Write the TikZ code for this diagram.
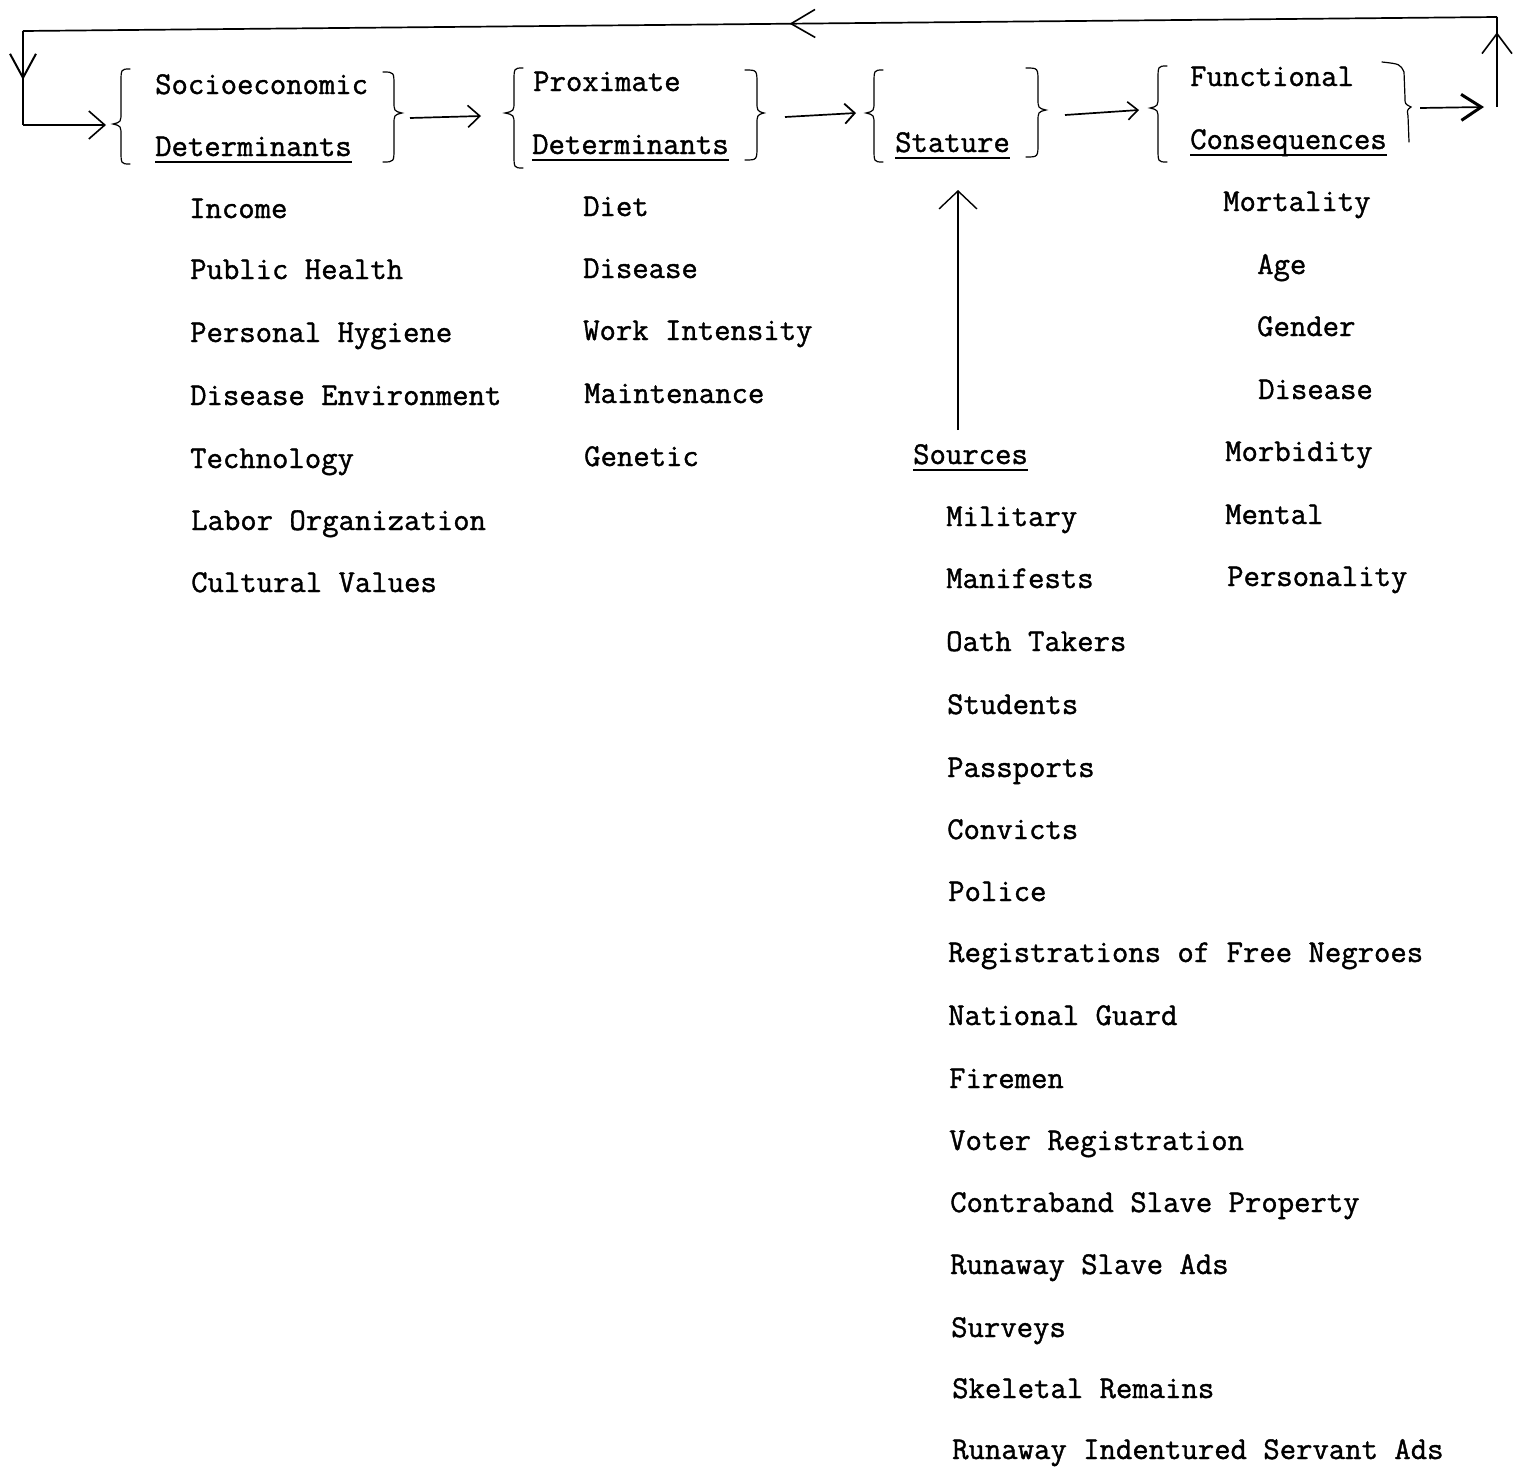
\documentclass[tikz,border=0pt]{standalone}
\usepackage{fontspec}
\setmonofont{Latin Modern Mono}[FakeBold=1.2]
\usetikzlibrary{arrows.meta,decorations.markings}
\tikzset{
  txt/.style={anchor=base west, inner sep=0pt, font=\fontsize{31.8}{31.8}\selectfont\ttfamily},
  conn/.style={line width=1.7pt},
  bracestyle/.style={line width=1.2pt, line cap=round},
  ulstyle/.style={line width=1.8pt},
  midarrow/.style 2 args={postaction={decorate, decoration={markings, mark=at position #1 with {\arrow{#2}}}}},
}
\newcommand{\mybrace}[6]{%
  \draw[bracestyle] (#6,#4) .. controls (#3,#4) .. (#3,{#4+14}) -- (#3,{#2-12})
    .. controls (#3,{#2-2}) .. (#1,#2) .. controls (#3,{#2+2}) .. (#3,{#2+12})
    -- (#3,{#5-14}) .. controls (#3,#5) .. (#6,#5);}
\newcommand{\myul}[1]{\draw[ulstyle] ([yshift=-6pt]#1.base west) -- ([yshift=-6pt]#1.base east);}
\begin{document}
\begin{tikzpicture}[x=1pt,y=-1pt]
\useasboundingbox (0,0) rectangle (1521,1467);

% group titles
\node[txt] (soc1) at (155,94) {Socioeconomic};
\node[txt] (soc2) at (155,156) {Determinants};
\node[txt] (pro1) at (533,91) {Proximate};
\node[txt] (pro2) at (532,154) {Determinants};
\node[txt] (stat) at (895,152) {Stature};
\node[txt] (fun1) at (1190,86) {Functional};
\node[txt] (fun2) at (1190,149) {Consequences};
\node[txt] (src) at (913,464) {Sources};
\myul{soc2}\myul{pro2}\myul{stat}\myul{fun2}\myul{src}

% socioeconomic items
\node[txt] (s1) at (189,218) {Income};
\node[txt] (s2) at (190,279) {Public Health};
\node[txt] (s3) at (190,342) {Personal Hygiene};
\node[txt] (s4) at (190,405) {Disease Environment};
\node[txt] (s5) at (190,468) {Technology};
\node[txt] (s6) at (191,530) {Labor Organization};
\node[txt] (s7) at (191,592) {Cultural Values};

% proximate items
\node[txt] (p1) at (583,216) {Diet};
\node[txt] (p2) at (583,278) {Disease};
\node[txt] (p3) at (583,340) {Work Intensity};
\node[txt] (p4) at (584,403) {Maintenance};
\node[txt] (p5) at (584,466) {Genetic};

% functional items
\node[txt] (f1) at (1223,211) {Mortality};
\node[txt] (f2) at (1257,274) {Age};
\node[txt] (f3) at (1257,336) {Gender};
\node[txt] (f4) at (1258,399) {Disease};
\node[txt] (f5) at (1225,461) {Morbidity};
\node[txt] (f6) at (1225,524) {Mental};
\node[txt] (f7) at (1227,586) {Personality};

% sources
\node[txt] (r1) at (946,526) {Military};
\node[txt] (r2) at (946,588) {Manifests};
\node[txt] (r3) at (946,651) {Oath Takers};
\node[txt] (r4) at (947,714) {Students};
\node[txt] (r5) at (947,777) {Passports};
\node[txt] (r6) at (947,839) {Convicts};
\node[txt] (r7) at (948,901) {Police};
\node[txt] (r8) at (948,962) {Registrations of Free Negroes};
\node[txt] (r9) at (948,1025) {National Guard};
\node[txt] (r10) at (949,1088) {Firemen};
\node[txt] (r11) at (949,1150) {Voter Registration};
\node[txt] (r12) at (950,1212) {Contraband Slave Property};
\node[txt] (r13) at (950,1274) {Runaway Slave Ads};
\node[txt] (r14) at (951,1337) {Surveys};
\node[txt] (r15) at (952,1398) {Skeletal Remains};
\node[txt] (r16) at (952,1459) {Runaway Indentured Servant Ads};

% braces
\mybrace{113}{124}{121}{69}{164}{130}
\mybrace{402}{113}{394}{72}{162}{383}
\mybrace{505}{113}{514}{68}{168}{523}
\mybrace{764}{113}{757}{70}{160}{745}
\mybrace{866}{113}{874}{70}{162}{883}
\mybrace{1046}{110}{1038}{68}{157}{1026}
\mybrace{1150}{108}{1158}{66}{162}{1167}
\draw[bracestyle] (1382,62) .. controls (1400,64) .. (1404,72) -- (1405,98)
  .. controls (1405,104) .. (1411,107) .. controls (1407,110) .. (1408,116) -- (1409,142);

% connector end points
\coordinate (a1s) at (410,118); \coordinate (a1e) at (481,116);
\coordinate (a2s) at (785,117); \coordinate (a2e) at (856,113);
\coordinate (a3s) at (1065,115); \coordinate (a3e) at (1139,110);
\coordinate (a4s) at (1420,108); \coordinate (a4e) at (1484,107);
\coordinate (fb1) at (1497,107);
\coordinate (fb2) at (1497,17);
\coordinate (fb3) at (23,31);
\coordinate (fb4) at (23,125);
\coordinate (fb5) at (106,125);
\coordinate (st1) at (958,430);
\coordinate (st2) at (958,190);

\draw[conn, -{Straight Barb[length=12pt,width=22pt,line width=1.6pt]}] (a1s) -- (a1e);
\draw[conn, -{Straight Barb[length=10pt,width=20pt,line width=1.8pt]}] (a2s) -- (a2e);
\draw[conn, -{Straight Barb[length=10pt,width=18pt,line width=1.6pt]}] (a3s) -- (a3e);
\draw[conn, -{Straight Barb[length=20pt,width=26pt,line width=3pt]}] (a4s) -- (a4e);

\draw[conn, midarrow={0.83}{Straight Barb[length=20pt,width=30pt,line width=1.6pt]}] (fb1) -- (fb2);
\draw[conn, midarrow={0.48}{Straight Barb[length=24pt,width=28pt,line width=1.6pt]}] (fb2) -- (fb3);
\draw[conn, midarrow={0.52}{Straight Barb[length=24pt,width=26pt,line width=2pt]}] (fb3) -- (fb4);
\draw[conn, -{Straight Barb[length=16pt,width=28pt,line width=1.6pt]}] (fb4) -- (fb5);

\draw[line width=1.3pt, -{Straight Barb[length=18pt,width=38pt,line width=1.4pt]}] (st1) -- (st2);
\end{tikzpicture}
\end{document}
